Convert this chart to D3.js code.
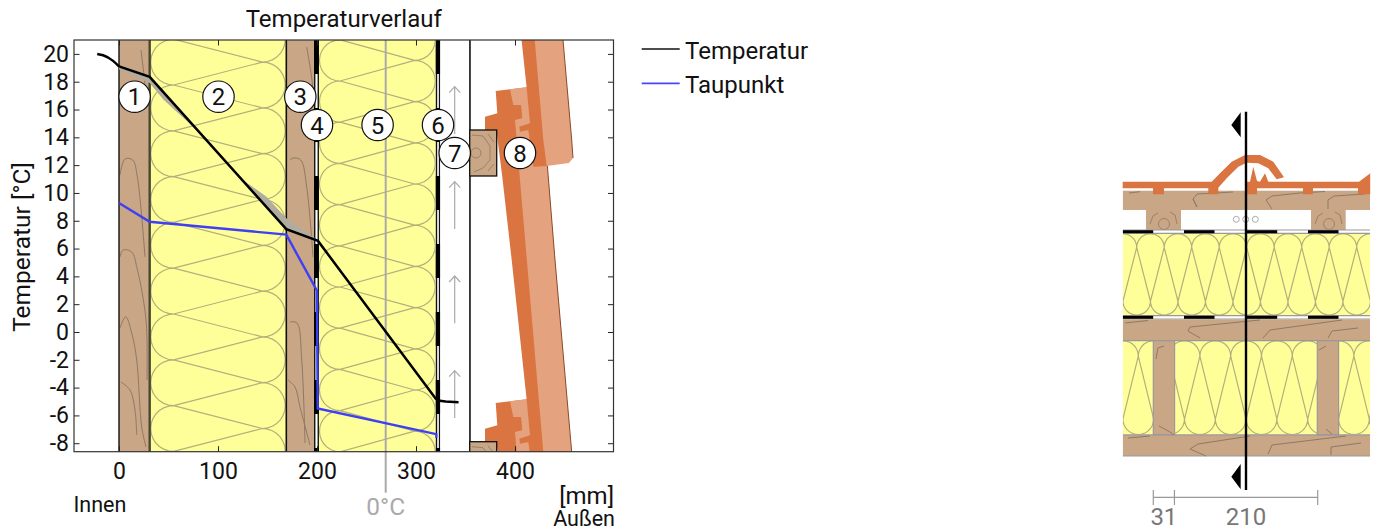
<!DOCTYPE html>
<meta charset="utf-8">
<html><head>
<style>
body { margin: 0; background: #fff; }
svg { display: block; }
text { font-family: Roboto, sans-serif; fill: #111; }
.axis path { display: none; }
.axis line { stroke: #222; stroke-width: 1; }
.axis text { font-size: 23px; font-family: Roboto, sans-serif; fill: #111; }
.grain { fill: none; stroke: #8d7a66; stroke-width: 1; }
.quilt { fill: none; stroke: #b3b07c; stroke-width: 1.2; }
</style>
</head>
<body>
<svg width="1375" height="531"></svg>
<script src="https://d3js.org/d3.v7.min.js"></script>
<script>

// values
var tempX = [-22, -16, -6, 0, 31, 169, 201, 320, 324, 330, 343];
var tempY = [20, 19.9, 19.5, 19.1, 18.35, 7.4, 6.55, -4.8, -4.95, -5.0, -5.05];
var dewX = [0, 31, 169, 200, 200.7, 320.5, 320.5];
var dewY = [9.28, 7.93, 7.0, 2.97, -5.5, -7.35, -7.6];
// grey band around the temperature line
var bandX = [0, 31, 45, 82, 122, 149, 169, 201, 206];
var bandHi = [19.1, 18.35, 17.24, 14.3, 11.1, 9.73, 8.18, 6.6, 6.1];
var bandLo = [18.9, 17.9, 16.7, 14.3, 11.1, 9.0, 7.4, 6.55, 6.1];

var yTicks = [20, 18, 16, 14, 12, 10, 8, 6, 4, 2, 0, -2, -4, -6, -8];
var xTicks = [0, 100, 200, 300, 400];
var zeroCrossing = 269.4;

var layerStart = [0, 31, 169, 197, 202, 320, 324.5];
var layerEnd = [31, 169, 197, 202, 320, 324.5, 354.5];
var layerKind = ["wood", "wool", "wood", "foil", "wool", "foil", "air"];

var legendNames = ["Temperatur", "Taupunkt"];
var legendColors = ["#111", "#4646ff"];

var dimValues = [31, 210];
var markerLabels = ["1", "2", "3", "4", "5", "6", "7", "8"];

var WOOD = "#c9a685", WOOL = "#ffff99", DARK = "#da7440", LIGHT = "#e5a27f", BLUE = "#3f3ff5";

var svg = d3.select("svg");
var plotL = 74, plotR = 613.5, plotT = 40, plotB = 451.7;

var x = d3.scaleLinear().domain([-45.45, 499.5]).range([plotL, plotR]);
var y = d3.scaleLinear().domain([21, -8.61]).range([plotT, plotB]);

var defs = svg.append("defs");
defs.append("clipPath").attr("id", "plot").append("rect")
    .attr("x", plotL).attr("y", plotT).attr("width", plotR - plotL).attr("height", plotB - plotT);

function addClip(id, x0, y0, w, h) {
  defs.append("clipPath").attr("id", id).append("rect")
      .attr("x", x0).attr("y", y0).attr("width", w).attr("height", h);
}

function poly(g, pts, fill, stroke) {
  return g.append("path")
      .attr("d", "M" + pts.map(function(p) { return p.join(","); }).join("L") + "Z")
      .attr("fill", fill)
      .attr("stroke", stroke || "none");
}

function grain(g, pts) {
  g.append("path").attr("class", "grain").attr("d", d3.line().curve(d3.curveCatmullRom)(pts));
}

// quilted insulation, loops on the two long sides. along = position along the layer
function quilt(g, a0, a1, c0, c1, offset, horizontal) {
  var period = 2 * offset.r, r = offset.r, p = d3.path();
  function pt(a, c) { return horizontal ? [a, c] : [c, a]; }
  function mv(a, c) { var q = pt(a, c); p.moveTo(q[0], q[1]); }
  function ln(a, c) { var q = pt(a, c); p.lineTo(q[0], q[1]); }
  function loop(a, c, side) {
    // half circle from a to a + period, bulging to side
    var n = 14;
    for (var i = 1; i <= n; i++) {
      var t = Math.PI * i / n;
      ln(a + r - r * Math.cos(t), c + side * r * Math.sin(t));
    }
  }
  var cl = c0 + r, ch = c1 - r;
  for (var a = offset.low - 12 * period; a < a1 + period; a += period) {
    mv(a, cl); loop(a, cl, -1);
    mv(a, cl); ln(a + r, ch);
    mv(a, cl); ln(a - r, ch);
  }
  for (var b = offset.low + r - 12 * period; b < a1 + period; b += period) {
    mv(b, ch); loop(b, ch, 1);
  }
  g.append("path").attr("class", "quilt").attr("d", p.toString());
}

// ---- wall section behind the chart
var art = svg.append("g").attr("clip-path", "url(#plot)");

layerKind.forEach(function(kind, i) {
  var x0 = x(layerStart[i]), x1 = x(layerEnd[i]);
  if (kind == "wood" || kind == "wool" || kind == "air") {
    art.append("rect").attr("x", x0).attr("y", plotT).attr("width", x1 - x0).attr("height", plotB - plotT)
        .attr("fill", kind == "wood" ? WOOD : kind == "wool" ? WOOL : "#fff");
  }
  if (kind == "foil") {
    art.append("rect").attr("x", x0).attr("y", plotT).attr("width", x1 - x0).attr("height", plotB - plotT).attr("fill", "#fff");
    [x0 + 0.7, x1 - 0.7].forEach(function(fx) {
      art.append("line").attr("x1", fx).attr("x2", fx).attr("y1", plotT).attr("y2", plotB).attr("stroke", "#111").attr("stroke-width", 1.4);
    });
    for (var s = plotT; s < plotB; s += 68) {
      art.append("rect").attr("x", x0).attr("y", s).attr("width", x1 - x0).attr("height", 34).attr("fill", "#000");
    }
  }
});

var wool1 = art.append("g");
addClip("w1", x(31), plotT, x(169) - x(31), plotB - plotT);
wool1.attr("clip-path", "url(#w1)");
quilt(wool1, plotT, plotB, x(31) + 1, x(169) - 1, {low: 85, r: 22.9}, false);
var wool2 = art.append("g");
addClip("w2", x(202), plotT, x(320) - x(202), plotB - plotT);
wool2.attr("clip-path", "url(#w2)");
quilt(wool2, plotT, plotB, x(202) + 0.5, x(320) - 0.5, {low: 81, r: 20.6}, false);

[[[141, 50], [145, 85], [146, 100]],
 [[120, 175], [125, 159], [132.7, 160], [137.3, 176.7], [145, 257]],
 [[120, 257], [123, 250], [131.7, 252], [137, 268], [146, 320], [147, 380]],
 [[120, 328], [125.7, 316.7], [131.7, 333], [136.7, 360], [141.7, 427], [146, 447]],
 [[121, 382], [130, 390], [135, 410], [136.7, 435]],
 [[306.7, 47], [312, 80], [314, 103]],
 [[290, 160], [293, 158], [300.7, 160], [306.7, 187], [313, 257]],
 [[290, 322], [297, 323], [301.7, 360], [305, 443]],
 [[288, 380], [295, 387], [300, 407], [310, 445]]
].forEach(function(pts) { grain(art, pts); });

[[x(0), 1.4], [x(31), 2.4], [x(169), 1.6], [x(354.5), 1.6]].forEach(function(e) {
  art.append("line").attr("x1", e[0]).attr("x2", e[0]).attr("y1", plotT).attr("y2", plotB)
      .attr("stroke", e[0] == x(31) ? "#4a4636" : "#111").attr("stroke-width", e[1]);
});

// air arrows
[86.7, 181.7, 276, 370.7].forEach(function(tip) {
  var ax = 454.7;
  art.append("path").attr("fill", "none").attr("stroke", "#aaa").attr("stroke-width", 1.2)
      .attr("d", "M" + ax + "," + (tip + 47.3) + "V" + tip + "M" + (ax - 5.5) + "," + (tip + 6) + "L" + ax + "," + tip + "L" + (ax + 5.5) + "," + (tip + 6));
});

// roof tiles, lowest first
var tileDark = [[485, 116.7], [497.3, 113.3], [495.7, 91], [526.7, 87.3], [541, 87], [546.7, 166], [571, 452], [546.7, 478],
  [533.3, 478.7], [528.3, 442], [520, 443.7], [519.3, 438.7], [530, 435.3], [526.7, 400], [511.7, 260], [502.3, 177], [497, 135], [485, 135]];
var tileLight = [[510, 89.3], [513.3, 105], [521, 105], [522.3, 118.3], [515, 120], [520, 180], [526, 250], [543.3, 452], [546.7, 478],
  [569, 475], [573, 470], [571.7, 452], [555, 260], [541, 87], [526.7, 87.3]];
[312, 0, -312].forEach(function(dy) {
  var t = art.append("g").attr("transform", "translate(0," + dy + ")");
  poly(t, tileDark, DARK);
  poly(t, tileLight, LIGHT);
  t.append("path").attr("fill", "none").attr("stroke", "#8a4a28").attr("stroke-width", 1)
      .attr("d", "M541,87L555,260L571.7,452L573,470");
});

// battens
[130, 441.7].forEach(function(by) {
  var b = art.append("g");
  b.append("rect").attr("x", 469.7).attr("y", by).attr("width", 27).attr("height", 46)
      .attr("fill", WOOD).attr("stroke", "#111").attr("stroke-width", 1.3);
  b.append("circle").attr("cx", 476).attr("cy", by + 23).attr("r", 5).attr("fill", "none").attr("stroke", "#98836c");
  b.append("path").attr("fill", "none").attr("stroke", "#98836c")
      .attr("d", "M472," + (by + 5) + "L483," + (by + 6) + "L490," + (by + 16) + "L490," + (by + 30) + "L483," + (by + 38) + "L474," + (by + 42)
        + "M488," + (by + 4) + "L494," + (by + 12) + "M494," + (by + 34) + "L488," + (by + 41));
});

// grey band and 0 degree line
var bandData = bandX.map(function(d, i) { return {x: d, hi: bandHi[i], lo: bandLo[i]}; });
svg.append("path")
    .attr("fill", "#b0ad9f")
    .attr("d", d3.area()
        .x(function(d) { return x(d.x); })
        .y0(function(d) { return y(d.lo); })
        .y1(function(d) { return y(d.hi); })(bandData));

svg.append("line")
    .attr("x1", x(zeroCrossing)).attr("x2", x(zeroCrossing))
    .attr("y1", plotT).attr("y2", 492.7)
    .attr("stroke", "#aaa").attr("stroke-width", 2);

var line = d3.line()
    .x(function(d) { return x(d[0]); })
    .y(function(d) { return y(d[1]); });

svg.append("path")
    .attr("fill", "none").attr("stroke", BLUE).attr("stroke-width", 2.4)
    .attr("d", line(dewX.map(function(d, i) { return [d, dewY[i]]; })));
svg.append("path")
    .attr("fill", "none").attr("stroke", "#000").attr("stroke-width", 2.5)
    .attr("d", d3.line().x(function(d) { return x(d[0]); }).y(function(d) { return y(d[1]); })
        .curve(d3.curveMonotoneX)(tempX.slice(0, 4).map(function(d, i) { return [d, tempY[i]]; })));
svg.append("path")
    .attr("fill", "none").attr("stroke", "#000").attr("stroke-width", 2.5)
    .attr("d", line(tempX.slice(3).map(function(d, i) { return [d, tempY[i + 3]]; })));

// axes
svg.append("g").attr("class", "axis").attr("transform", "translate(" + plotL + ",0)")
    .call(d3.axisLeft(y).tickValues(yTicks).tickSize(-5.5).tickPadding(5).tickFormat(String));
svg.append("g").attr("class", "axis").attr("transform", "translate(" + plotR + ",0)")
    .call(d3.axisRight(y).tickValues(yTicks).tickSize(-5.5).tickFormat(""));
svg.append("g").attr("class", "axis").attr("transform", "translate(0," + plotB + ")")
    .call(d3.axisBottom(x).tickValues(xTicks).tickSize(-5.5).tickPadding(11).tickFormat(String));
svg.append("g").attr("class", "axis").attr("transform", "translate(0," + plotT + ")")
    .call(d3.axisTop(x).tickValues(xTicks).tickSize(-5.5).tickFormat(""));

svg.append("rect").attr("x", plotL).attr("y", plotT).attr("width", plotR - plotL).attr("height", plotB - plotT)
    .attr("fill", "none").attr("stroke", "#333").attr("stroke-width", 1.2);

// numbered circles
var markerX = [134.6, 218.5, 300.3, 317, 377.6, 438, 454.7, 520];
var markerY = [96.7, 96.7, 96.7, 125, 125, 125, 153, 153];
var marker = svg.append("g").selectAll("g").data(markerLabels).enter().append("g")
    .attr("transform", function(d, i) { return "translate(" + markerX[i] + "," + markerY[i] + ")"; });
marker.append("circle").attr("r", 15.7).attr("fill", "#fff").attr("stroke", "#111").attr("stroke-width", 1.2);
marker.append("text").attr("text-anchor", "middle").attr("dy", 8.5).style("font-size", "24px")
    .text(function(d) { return d; });

// titles and small labels
function label(px, py, txt, size, anchor, col) {
  return svg.append("text").attr("x", px).attr("y", py).attr("text-anchor", anchor)
      .style("font-size", size + "px").style("fill", col || "#111").text(txt);
}
label((plotL + plotR) / 2, 27, "Temperaturverlauf", 24, "middle");
svg.append("text").attr("transform", "translate(30,247) rotate(-90)").attr("text-anchor", "middle")
    .style("font-size", "24.5px").text("Temperatur [°C]");
label(73.5, 512, "Innen", 21.5, "start");
label(614, 504, "[mm]", 24, "end");
label(615, 526, "Außen", 21.5, "end");
label(x(zeroCrossing), 515, "0°C", 24.5, "middle", "#aaa");

// legend
legendNames.forEach(function(n, i) {
  var ly = 49 + i * 34.4;
  svg.append("line").attr("x1", 641.7).attr("x2", 679.7).attr("y1", ly).attr("y2", ly)
      .attr("stroke", legendColors[i]).attr("stroke-width", 1.7);
  label(685, ly + 9.7, n, 24, "start");
});

// ---- roof detail on the right
var d = svg.append("g");
addClip("detail", 1122.7, 100, 247.5, 400);
var dc = d.append("g").attr("clip-path", "url(#detail)");

function band(y0, y1, fill) {
  dc.append("rect").attr("x", 1122.7).attr("y", y0).attr("width", 247.5).attr("height", y1 - y0).attr("fill", fill);
}
function rule(yy) {
  dc.append("line").attr("x1", 1122.7).attr("x2", 1370.2).attr("y1", yy).attr("y2", yy).attr("stroke", "#999").attr("stroke-width", 1.2);
}

band(190.7, 210, WOOD);
[[1146, 35], [1311, 34.7]].forEach(function(c) {
  dc.append("rect").attr("x", c[0]).attr("y", 210).attr("width", c[1]).attr("height", 20).attr("fill", WOOD);
  dc.append("path").attr("fill", "none").attr("stroke", "#98836c")
      .attr("d", "M" + (c[0] + 4) + ",224L" + (c[0] + 7) + ",216L" + (c[0] + 12) + ",213M" + (c[0] + 31) + ",224L" + (c[0] + 29) + ",215L" + (c[0] + 24) + ",212");
  dc.append("circle").attr("cx", c[0] + 18).attr("cy", 224).attr("r", 5.5).attr("fill", "none").attr("stroke", "#98836c");
});
[1236.3, 1245.7, 1255.3].forEach(function(cx) {
  dc.append("circle").attr("cx", cx).attr("cy", 219.3).attr("r", 3).attr("fill", "#fff").attr("stroke", "#aaa");
});

band(233.7, 315, WOOL);
var qa = dc.append("g");
addClip("qa", 1122.7, 233.7, 247.5, 81.3);
qa.attr("clip-path", "url(#qa)");
quilt(qa, 1100, 1400, 233.7, 315, {low: 1136.7, r: 13.75}, true);
band(340.7, 434.5, WOOL);
var qb = dc.append("g");
addClip("qb", 1122.7, 340.7, 247.5, 93.8);
qb.attr("clip-path", "url(#qb)");
quilt(qb, 1100, 1400, 340.7, 434.5, {low: 1138.3, r: 15.4}, true);

[230, 233.3, 315.7, 319].forEach(rule);
[230.2, 315.8].forEach(function(fy) {
  [1122.7, 1184, 1246.7, 1308].forEach(function(fx) {
    dc.append("rect").attr("x", fx).attr("y", fy).attr("width", 30.5).attr("height", 3).attr("fill", "#000");
  });
});

band(319.3, 340.7, WOOD);
band(435, 456, WOOD);
rule(340.7); rule(434.8); rule(456);
[1153.3, 1317.3].forEach(function(sx) {
  dc.append("rect").attr("x", sx).attr("y", 340.7).attr("width", 21.3).attr("height", 94)
      .attr("fill", WOOD).attr("stroke", "#999").attr("stroke-width", 1.2);
});

[["M1129,193L1140,191.7"], ["M1197,194L1233,192M1197,194L1193,199L1197,207L1193,199"],
 ["M1266,200L1272,196L1300,193L1325,191.5M1266,200L1272,209"], ["M1328,200L1334,196L1365,194M1328,200L1328,209"],
 ["M1125,323L1148,320.5"], ["M1188,331L1190,327L1260,320M1188,331L1200,338"],
 ["M1263,338L1270,330L1342,320"], ["M1328,338L1332,331L1358,328"],
 ["M1128,438L1150,436"], ["M1190,449L1198,444L1250,436M1190,449L1206,456"],
 ["M1268,454L1272,445L1346,436"], ["M1331,455L1331,447L1361,443"],
 ["M1156,359L1158,348L1164,346"], ["M1159,426L1170,432L1174,435"], ["M1319,350L1326,346"], ["M1326,429L1332,434"]
].forEach(function(s) {
  dc.append("path").attr("fill", "none").attr("stroke", "#8d7a66").attr("d", s[0]);
});

// top tile
var tileG = dc.append("g").attr("stroke", "#a35a30").attr("stroke-width", 0.8);
poly(tileG, [[1100, 181.7], [1211.7, 181.7], [1220, 173.3], [1231.7, 161.7], [1245, 155], [1260, 155], [1273.3, 161.7], [1284, 177.3], [1276.7, 179.3],
  [1268.3, 168.3], [1258.3, 163.3], [1246.7, 162.7], [1238.3, 166.7], [1226.7, 178.3], [1218.3, 187.7], [1218.3, 194.3], [1208.3, 194.3], [1208.3, 188.3],
  [1164, 188.3], [1164, 194.3], [1153, 194.3], [1153, 188.3], [1100, 188.3]], DARK);
poly(tileG, [[1247, 181.7], [1250, 181.7], [1253.3, 166.7], [1257, 181], [1260, 181.7], [1265, 173.3], [1268.3, 181.7], [1359, 181.7], [1364, 178], [1372, 172], [1372, 194.3], [1358, 194.3], [1358, 188.3],
  [1313, 188.3], [1313, 194.3], [1303, 194.3], [1303, 188.3], [1257, 188.3], [1257, 194.3], [1247, 194.3]], DARK);

// section marks
d.append("line").attr("x1", 1246).attr("x2", 1246).attr("y1", 111.7).attr("y2", 490)
    .attr("stroke", "#000").attr("stroke-width", 2.4);
[[112.3, 125, 137.3], [464, 476.7, 489.3]].forEach(function(t) {
  poly(d, [[1240.7, t[0]], [1231.3, t[1]], [1240.7, t[2]]], "#000");
});

// dimensions
var dimX = d3.scaleLinear().domain([0, d3.sum(dimValues)]).range([1153.3, 1317.7]);
var dimEdges = [0, dimValues[0], dimValues[0] + dimValues[1]];
d.append("line").attr("x1", dimX(0)).attr("x2", dimX(dimEdges[2])).attr("y1", 497.3).attr("y2", 497.3)
    .attr("stroke", "#999").attr("stroke-width", 1.2);
dimEdges.forEach(function(e) {
  d.append("line").attr("x1", dimX(e)).attr("x2", dimX(e)).attr("y1", 490).attr("y2", 505)
      .attr("stroke", "#999").attr("stroke-width", 1.2);
});
dimValues.forEach(function(v, i) {
  label(dimX(dimEdges[i] + v / 2), 525, String(v), 24, "middle", "#777");
});

</script>
</body>
</html>
